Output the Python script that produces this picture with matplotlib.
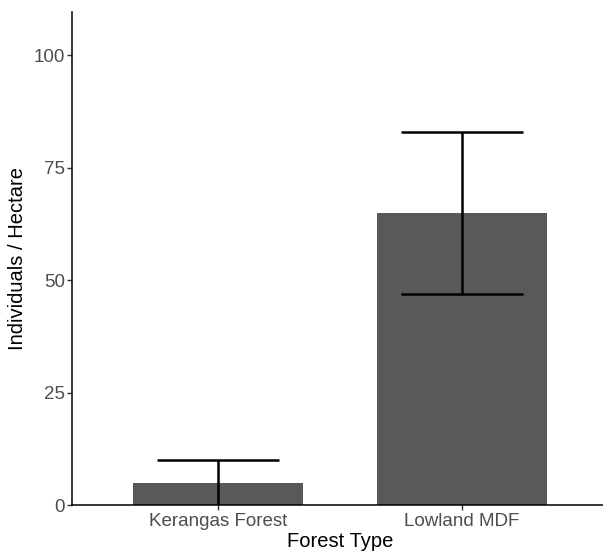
import matplotlib
matplotlib.use('Agg')
import matplotlib.pyplot as plt

# Data
forest_types = ['Kerangas Forest', 'Lowland MDF']
density = [5, 65]
err_low = [0, 47]
err_high = [10, 83]
y_ticks = [0, 25, 50, 75, 100]

plt.rcParams['font.family'] = ['Liberation Sans', 'DejaVu Sans']

W, H = 603, 551
fig = plt.figure(figsize=(W / 100, H / 100), dpi=100)
ax = fig.add_axes([72 / W, 46 / H, (608 - 72) / W, (505 - 12) / H])

x = [1, 2]
ax.bar(x, density, width=0.7, color='#595959', zorder=1)
# error bars as in ggplot geom_errorbar
for xi, lo, hi in zip(x, err_low, err_high):
    ax.plot([xi, xi], [lo, hi], color='black', lw=1.8, zorder=2, solid_capstyle='butt')
    ax.plot([xi - 0.25, xi + 0.25], [hi, hi], color='black', lw=1.8, zorder=2, solid_capstyle='butt')
    if lo > 0:
        ax.plot([xi - 0.25, xi + 0.25], [lo, lo], color='black', lw=1.8, zorder=2, solid_capstyle='butt')

ax.set_xlim(0.4, 2.6)
ax.set_ylim(0, 109.6)
ax.set_xticks(x)
ax.set_xticklabels(forest_types)
ax.set_yticks(y_ticks)

for s in ['top', 'right']:
    ax.spines[s].set_visible(False)
for s in ['left', 'bottom']:
    ax.spines[s].set_linewidth(1.1)
    ax.spines[s].set_color('black')

ax.tick_params(axis='both', colors='#333333', labelcolor='#4D4D4D', labelsize=13.5, length=3.5, width=1, pad=1.5)
ax.tick_params(axis='x', pad=2.5)
ax.set_xlabel('Forest Type', fontsize=14.5, color='black', labelpad=1)
ax.set_ylabel('Individuals / Hectare', fontsize=14.5, color='black', labelpad=5)

fig.savefig('out.png', dpi=100)
